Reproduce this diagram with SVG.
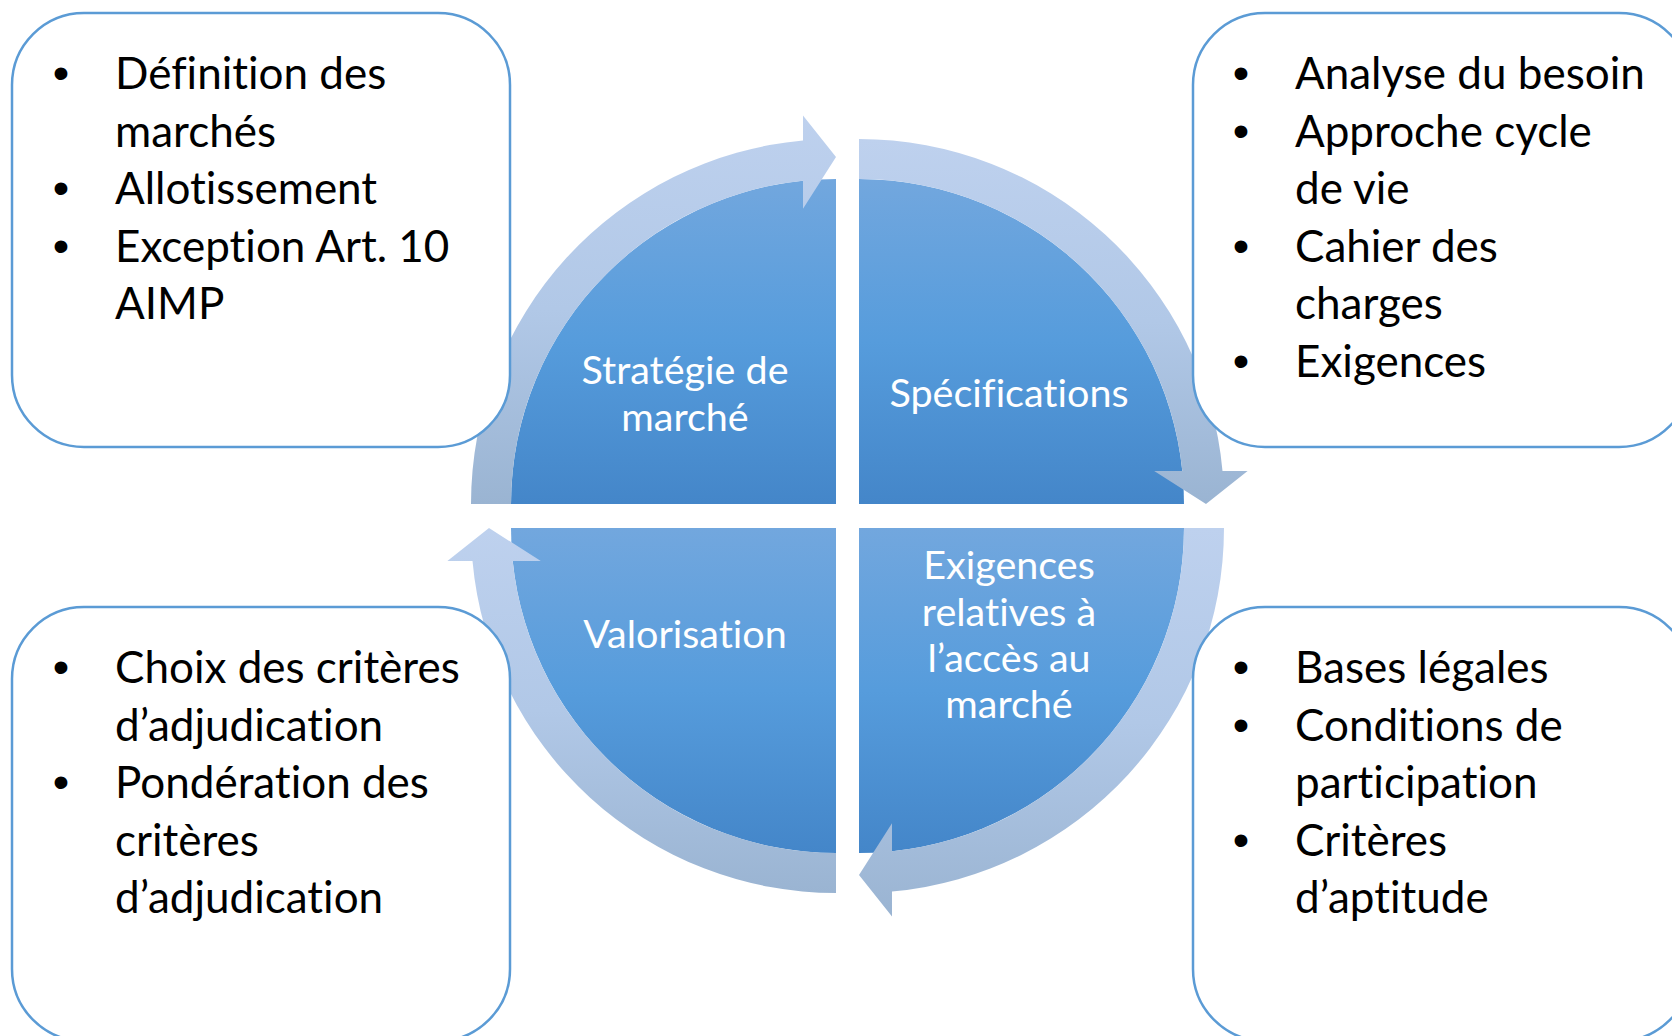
<svg xmlns="http://www.w3.org/2000/svg" width="1672" height="1036" viewBox="0 0 1672 1036">
<defs>
<linearGradient id="pieGrad" x1="0" y1="0" x2="0" y2="1">
<stop offset="0" stop-color="#72A7DE"/>
<stop offset="0.5" stop-color="#569CDC"/>
<stop offset="1" stop-color="#4486C9"/>
</linearGradient>
<linearGradient id="arrowGrad" x1="0" y1="0" x2="0" y2="1">
<stop offset="0" stop-color="#BED1EE"/>
<stop offset="0.5" stop-color="#B1C8E7"/>
<stop offset="1" stop-color="#9AB4D2"/>
</linearGradient>
<style>
.pie{fill:url(#pieGrad);}
.arrow{fill:url(#arrowGrad);}
.box{fill:#FFFFFF;stroke:#5B9BD5;stroke-width:2.5;}
.ctext{font-family:Lato,"Liberation Sans",sans-serif;font-size:39.5px;fill:#FFFFFF;text-anchor:middle;font-variant-ligatures:none;}
.btext{font-family:Lato,"Liberation Sans",sans-serif;font-size:44px;fill:#000000;font-variant-ligatures:none;}
.bullet{font-family:"Liberation Sans",Arial,sans-serif;font-size:47px;fill:#000000;text-anchor:middle;}
</style>
</defs>
<rect width="1672" height="1036" fill="#FFFFFF"/>

<g id="pie-strategie">
<path class="pie" d="M836,504 L511,504 A325,325 0 0 1 836,179 Z"/>
<text class="ctext" x="685" y="384">Stratégie de</text>
<text class="ctext" x="685" y="431">marché</text>
</g>
<g id="pie-specifications">
<path class="pie" d="M859,504 L859,179 A325,325 0 0 1 1184,504 Z"/>
<text class="ctext" x="1009" y="407">Spécifications</text>
</g>
<g id="pie-exigences">
<path class="pie" d="M859,528 L1184,528 A325,325 0 0 1 859,853 Z"/>
<text class="ctext" x="1009" y="579">Exigences</text>
<text class="ctext" x="1009" y="626">relatives à</text>
<text class="ctext" x="1009" y="672">l’accès au</text>
<text class="ctext" x="1009" y="718">marché</text>
</g>
<g id="pie-valorisation">
<path class="pie" d="M836,528 L836,853 A325,325 0 0 1 511,528 Z"/>
<text class="ctext" x="685" y="648">Valorisation</text>
</g>

<g id="connectors">
<path class="arrow" d="M471,504 A365,365 0 0 1 803,140.5 L803,115.4 L836,157 L803,208.8 L803,180.7 A325,325 0 0 0 511,504 Z"/>
<path class="arrow" d="M859,139 A365,365 0 0 1 1222.5,471 L1247.6,471 L1206,504 L1154.2,471 L1182.3,471 A325,325 0 0 0 859,179 Z"/>
<path class="arrow" d="M1224,528 A365,365 0 0 1 892,891.5 L892,916.6 L859,875 L892,823.2 L892,851.3 A325,325 0 0 0 1184,528 Z"/>
<path class="arrow" d="M836,893 A365,365 0 0 1 472.5,561 L447.4,561 L489,528 L540.8,561 L512.7,561 A325,325 0 0 0 836,853 Z"/>
</g>

<g id="box-top-left">
<rect class="box" x="12" y="13" width="498" height="434" rx="72" ry="72"/>
<text class="bullet" x="61" y="89">•</text>
<text class="btext" x="115" y="89">Définition des</text>
<text class="btext" x="115" y="146.5">marchés</text>
<text class="bullet" x="61" y="204">•</text>
<text class="btext" x="115" y="204">Allotissement</text>
<text class="bullet" x="61" y="261.5">•</text>
<text class="btext" x="115" y="261.5">Exception Art. 10</text>
<text class="btext" x="115" y="319">AIMP</text>
</g>

<g id="box-top-right">
<rect class="box" x="1193" y="13" width="498" height="434" rx="72" ry="72"/>
<text class="bullet" x="1241" y="89">•</text>
<text class="btext" x="1295" y="89">Analyse du besoin</text>
<text class="bullet" x="1241" y="146.5">•</text>
<text class="btext" x="1295" y="146.5">Approche cycle</text>
<text class="btext" x="1295" y="204">de vie</text>
<text class="bullet" x="1241" y="261.5">•</text>
<text class="btext" x="1295" y="261.5">Cahier des</text>
<text class="btext" x="1295" y="319">charges</text>
<text class="bullet" x="1241" y="376.5">•</text>
<text class="btext" x="1295" y="376.5">Exigences</text>
</g>

<g id="box-bottom-left">
<rect class="box" x="12" y="607" width="498" height="434" rx="72" ry="72"/>
<text class="bullet" x="61" y="683">•</text>
<text class="btext" x="115" y="683">Choix des critères</text>
<text class="btext" x="115" y="740.5">d’adjudication</text>
<text class="bullet" x="61" y="798">•</text>
<text class="btext" x="115" y="798">Pondération des</text>
<text class="btext" x="115" y="855.5">critères</text>
<text class="btext" x="115" y="913">d’adjudication</text>
</g>

<g id="box-bottom-right">
<rect class="box" x="1193" y="607" width="498" height="434" rx="72" ry="72"/>
<text class="bullet" x="1241" y="683">•</text>
<text class="btext" x="1295" y="683">Bases légales</text>
<text class="bullet" x="1241" y="740.5">•</text>
<text class="btext" x="1295" y="740.5">Conditions de</text>
<text class="btext" x="1295" y="798">participation</text>
<text class="bullet" x="1241" y="855.5">•</text>
<text class="btext" x="1295" y="855.5">Critères</text>
<text class="btext" x="1295" y="913">d’aptitude</text>
</g>
</svg>
